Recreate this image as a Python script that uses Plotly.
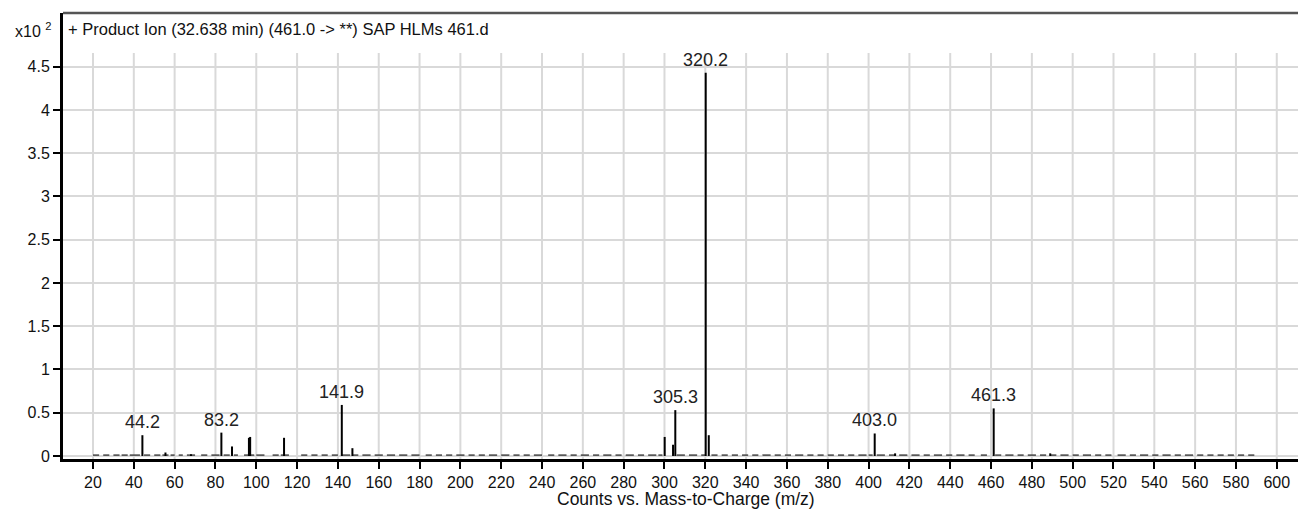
import plotly.graph_objects as go

# ---------------- data ----------------
peak_mz = [44.2, 55.5, 68.0, 82.9, 88.1, 96.4, 97.0, 113.6, 141.9, 147.1,
           300.1, 304.2, 305.3, 320.2, 321.7, 403.0, 413.0, 461.3, 489.0]
peak_int = [0.24, 0.04, 0.02, 0.27, 0.11, 0.21, 0.22, 0.21, 0.59, 0.09,
            0.22, 0.13, 0.53, 4.43, 0.24, 0.26, 0.03, 0.55, 0.03]

label_mz = [44.2, 83.2, 141.9, 305.3, 320.2, 403.0, 461.3]
label_int = [0.24, 0.27, 0.59, 0.53, 4.43, 0.26, 0.55]
label_text = ["44.2", "83.2", "141.9", "305.3", "320.2", "403.0", "461.3"]

noise_start = [20, 25, 30, 34, 38, 45, 50, 54, 58, 62, 66, 73, 78, 84, 89, 94, 100, 108, 112,
               122, 127, 132, 137, 142, 147, 152, 158, 164, 170, 176, 183, 188, 193, 198, 204,
               209, 214, 220, 226, 231, 236, 243, 248, 254, 259, 265, 270, 276, 281, 287, 292,
               297, 306, 312, 318, 323, 328, 333, 338, 343, 348, 354, 359, 364, 370, 375, 380,
               385, 390, 395, 400, 404, 410, 415, 421, 427, 432, 438, 443, 449, 455, 462, 467,
               473, 478, 484, 489, 494, 500, 505, 511, 516, 522, 528, 533, 539, 544, 550, 555,
               561, 566, 571, 576, 581, 586]
noise_end = [23, 28, 33, 37, 43, 48, 53, 57, 60, 64, 70, 76, 82, 87, 91, 99, 104, 111, 116,
             125, 130, 135, 140, 146, 150, 156, 162, 168, 174, 180, 186, 191, 196, 202, 207,
             212, 218, 224, 229, 234, 240, 246, 252, 257, 263, 268, 274, 279, 285, 290, 296,
             299, 310, 316, 320, 326, 331, 336, 341, 346, 352, 357, 362, 368, 373, 378, 383,
             388, 393, 399, 402, 408, 413, 419, 425, 430, 436, 441, 447, 452, 458, 465, 471,
             476, 482, 487, 492, 498, 503, 509, 514, 519, 526, 531, 537, 542, 548, 553, 559,
             564, 569, 574, 579, 584, 589]
noise_level = 0.01

x_ticks = list(range(20, 601, 20))
y_ticks = [0, 0.5, 1, 1.5, 2, 2.5, 3, 3.5, 4, 4.5]
y_tick_text = ["0", "0.5", "1", "1.5", "2", "2.5", "3", "3.5", "4", "4.5"]

title_text = "+ Product Ion (32.638 min) (461.0 -> **) SAP HLMs 461.d"
x_title = "Counts vs. Mass-to-Charge (m/z)"

FONT = "Liberation Sans, Arial, sans-serif"

# ---------------- figure ----------------
fig = go.Figure()

# baseline noise
nx, ny = [], []
for s, e in zip(noise_start, noise_end):
    nx += [s, e, None]
    ny += [noise_level, noise_level, None]
fig.add_trace(go.Scatter(x=nx, y=ny, mode="lines",
                         line=dict(color="#444444", width=1.5),
                         hoverinfo="skip", showlegend=False))

# sticks
sx, sy = [], []
for m, h in zip(peak_mz, peak_int):
    sx += [m, m, None]
    sy += [0, h, None]
fig.add_trace(go.Scatter(x=sx, y=sy, mode="lines",
                         line=dict(color="black", width=2),
                         showlegend=False))

# vertical grid lines (stop a little below the top frame)
for t in x_ticks:
    fig.add_shape(type="line", xref="x", yref="y", x0=t, x1=t, y0=-0.035, y1=4.66,
                  line=dict(color="#d9d9d9", width=2), layer="below")

# top frame line
fig.add_shape(type="line", xref="paper", yref="paper", x0=0, x1=1, y0=1, y1=1,
              line=dict(color="#555555", width=2.5))

for m, h, t in zip(label_mz, label_int, label_text):
    fig.add_annotation(x=m, y=h, text=t, showarrow=False, xanchor="center",
                       yanchor="bottom", yshift=1,
                       font=dict(family=FONT, size=18, color="#222222"))

fig.add_annotation(xref="paper", yref="paper", x=0.0025, y=1, yshift=-5,
                   text=title_text, showarrow=False, xanchor="left", yanchor="top",
                   font=dict(family=FONT, size=16.5, color="#111111"))
fig.add_annotation(xref="paper", yref="paper", x=0, xshift=-10, y=1, yshift=-5,
                   text="x10 <sup>2</sup>", showarrow=False, xanchor="right", yanchor="top",
                   font=dict(family=FONT, size=16, color="#111111"))
fig.add_annotation(xref="paper", yref="paper", x=0.5045, y=0, yshift=-28,
                   text=x_title, showarrow=False, xanchor="center", yanchor="top",
                   font=dict(family=FONT, size=17.5, color="#111111"))

fig.update_layout(
    width=1298, height=511,
    margin=dict(l=63, r=0, t=13, b=52),
    paper_bgcolor="white", plot_bgcolor="white",
    showlegend=False,
    font=dict(family=FONT, size=16, color="#111111"),
)
fig.update_xaxes(range=[5.3, 610.4], tickvals=x_ticks, showgrid=False, zeroline=False,
                 automargin=False,
                 showline=True, linecolor="black", linewidth=3,
                 ticks="outside", ticklen=7, tickwidth=2, tickcolor="black",
                 tickfont=dict(family=FONT, size=16, color="#111111"))
fig.update_yaxes(range=[-0.035, 5.121], tickvals=y_ticks, ticktext=y_tick_text,
                 automargin=False,
                 showgrid=True, gridcolor="#d9d9d9", gridwidth=2, zeroline=False,
                 showline=True, linecolor="black", linewidth=3,
                 ticks="outside", ticklen=7, tickwidth=2, tickcolor="black",
                 tickfont=dict(family=FONT, size=16, color="#111111"))

fig.write_html("out.html", config={"displayModeBar": False},
               post_script="document.body.style.margin='0';document.body.style.overflow='hidden';")
